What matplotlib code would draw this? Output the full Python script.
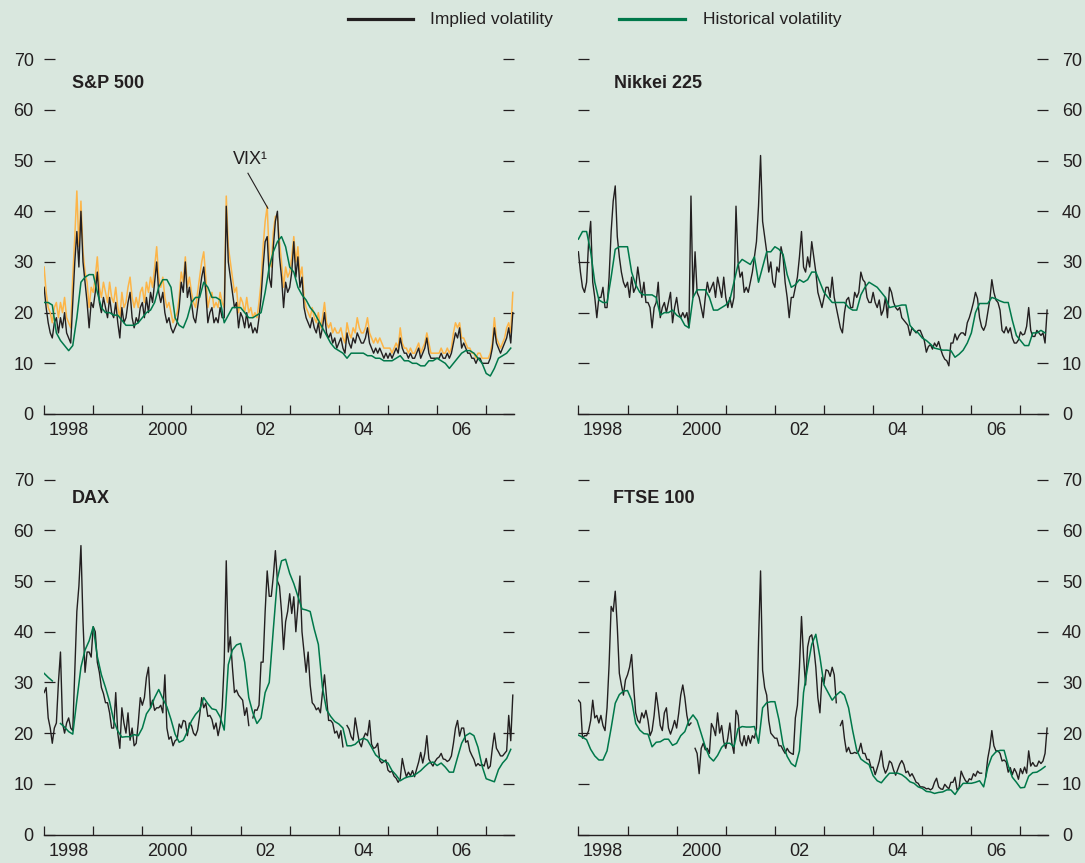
import numpy as np
import matplotlib
import matplotlib.pyplot as plt
from matplotlib.lines import Line2D

matplotlib.use('agg')

plt.rcParams['font.family'] = ['Liberation Sans Narrow', 'Liberation Sans', 'DejaVu Sans']

BG = '#d9e7de'
INK = '#231f20'
GREEN = '#00784a'
ORANGE = '#fdb548'

W, H = 1085, 863

# semi-monthly implied volatility, Jan 1998 - Jul 2007
spx_implied = [
    25, 21, 18, 16, 15, 18, 19, 16, 19, 17, 20, 16, 15, 14, 22, 30, 36, 29, 40, 30, 26, 22, 17, 22,
    21, 24, 28, 22, 20, 23, 21, 19, 23, 20, 19, 22, 18, 15, 21, 18, 19, 22, 24, 19, 17, 19, 18, 21,
    22, 19, 23, 20, 24, 22, 26, 30, 24, 22, 24, 20, 18, 19, 17, 16, 17, 18, 21, 26, 24, 30, 23, 25,
    22, 19, 18, 21, 24, 27, 29, 24, 18, 20, 21, 18, 19, 18, 21, 19, 19, 41, 30, 27, 24, 21, 22, 17,
    20, 19, 17, 20, 17, 18, 16, 17, 16, 19, 23, 29, 34, 35, 27, 25, 33, 38, 40, 31, 27, 21, 26, 24,
    25, 28, 34, 27, 31, 25, 27, 21, 19, 18, 17, 19, 17, 16, 18, 15, 17, 20, 16, 15, 16, 14, 15, 13,
    14, 15, 13, 12, 16, 14, 13, 15, 14, 16, 15, 14, 14, 15, 17, 14, 13, 12, 13, 12, 13, 12, 11, 12,
    11, 12, 11, 12, 13, 12, 15, 13, 12, 12, 11, 12, 11, 11, 12, 13, 11, 12, 13, 15, 12, 11, 11, 11,
    11, 11, 12, 11, 11, 12, 11, 12, 14, 16, 15, 17, 13, 14, 13, 12, 12, 11, 11, 10, 11, 11, 10, 10,
    10, 10, 11, 13, 17, 14, 13, 12, 13, 14, 15, 17, 14, 20,
]
vix = [
    29, 24, 21, 20, 18, 21, 22, 19, 22, 20, 23, 19, 18, 17, 27, 35, 44, 33, 42, 32, 28, 26, 21, 25,
    24, 27, 31, 25, 23, 26, 24, 22, 26, 23, 22, 25, 21, 19, 24, 21, 22, 25, 27, 23, 21, 23, 21, 24,
    25, 22, 26, 24, 27, 25, 29, 33, 27, 25, 27, 23, 21, 22, 20, 18, 19, 20, 23, 28, 26, 31, 25, 27,
    24, 22, 21, 24, 27, 30, 32, 27, 21, 23, 24, 21, 22, 21, 24, 22, 21, 43, 33, 30, 27, 24, 25, 20,
    23, 22, 20, 23, 20, 21, 19, 20, 19, 22, 26, 33, 38, 41, 31, 29, 36, 39, 39, 34, 30, 25, 29, 27,
    28, 31, 35, 30, 33, 27, 29, 23, 21, 20, 19, 21, 19, 18, 20, 17, 19, 22, 18, 17, 18, 16, 17, 16,
    16, 17, 15, 14, 18, 16, 15, 17, 16, 19, 17, 16, 16, 17, 19, 16, 15, 14, 15, 14, 15, 14, 13, 13,
    13, 13, 12, 13, 14, 13, 17, 14, 13, 13, 12, 13, 12, 12, 13, 14, 12, 13, 14, 16, 14, 12, 12, 12,
    12, 12, 13, 12, 12, 13, 12, 13, 16, 18, 17, 18, 15, 15, 14, 13, 13, 12, 12, 11, 12, 12, 11, 11,
    11, 11, 12, 14, 19, 15, 14, 13, 14, 15, 17, 18, 16, 24,
]
nikkei_implied = [
    32, 28, 25, 24, 26, 34, 38, 26, 23, 19, 23, 23, 25, 21, 21, 27, 36, 42, 45, 35, 31, 28, 26, 25,
    26, 23, 27, 24, 25, 29, 26, 23, 26, 22, 22, 21, 17, 21, 22, 26, 19, 21, 22, 20, 22, 24, 18, 21,
    23, 20, 19, 20, 19, 20, 17, 43, 23, 32, 24, 23, 21, 19, 23, 26, 24, 25, 26, 23, 27, 25, 23, 27,
    23, 21, 23, 21, 23, 41, 30, 27, 28, 24, 25, 24, 26, 28, 31, 34, 41, 51, 38, 35, 32, 28, 30, 26,
    25, 29, 28, 33, 31, 26, 23, 19, 23, 23, 25, 27, 31, 36, 29, 28, 31, 29, 34, 31, 28, 24, 22.5, 21,
    23, 25, 25, 23, 27, 23, 21, 19, 17, 16, 20, 22.5, 23, 21, 21, 24, 23, 24, 28, 26.5, 26, 23, 22, 22,
    24, 22, 21, 22.5, 19.5, 20.5, 23, 19, 25, 24, 22, 21, 20.5, 21, 19, 18.5, 18, 17.5, 15.5, 17, 16.5, 16, 16.5, 16.5,
    15.5, 14.5, 12.2, 13.3, 13.7, 12.8, 14, 13.3, 14.3, 12.8, 11.6, 10.8, 10.5, 9.5, 14, 14, 15.8, 14.6, 15.5, 16, 16, 15.5, 18, 19,
    20.4, 22, 24, 22.8, 19, 17.2, 16.5, 17.5, 20, 22.5, 26.5, 24, 22.5, 22, 20.5, 16.5, 16, 17.2, 16, 17, 15, 14, 14, 14.6,
    16.2, 15.6, 15.8, 17.3, 21, 16.5, 15.3, 15.3, 16.5, 16, 15.5, 16, 14, 20.5,
]
dax_implied = [
    28, 29, 23, 21, 18, 21, 22, 30, 36, 22, 20, 22, 23, 21, 20.5, 32, 44, 49, 57, 42, 32, 36, 36, 35,
    41, 40, 34, 32, 29, 27.8, 26, 26, 24, 21, 21, 28, 20, 17, 25, 22, 20, 24, 18.6, 21, 17.5, 18, 22, 27,
    25.5, 27, 31, 33, 25, 26.5, 24.5, 25, 25, 25.5, 24, 31.5, 21, 18.8, 19.3, 17.5, 18.5, 18.8, 21.8, 21, 22.5, 22.3, 19.5, 22,
    21.5, 20, 19.5, 20.6, 23.5, 27, 25, 25.9, 23.3, 23.5, 22.7, 20.8, 22, 19.5, 21.5, 25, 34, 54, 36, 39, 33, 28, 28.5, 27.5,
    27, 26.5, 23.5, 25, 21.5, np.nan, 23, 24.6, 24.5, 25.5, 34, 34, 44, 52, 47, 47, 51, 56, 50, 49, 44, 36.5, 42, 44,
    47.5, 43.6, 46.9, 40, 45, 51, 40, 36, 32, 36, 29.5, 26, 25.5, 24.6, 25, 24, 28, 31.5, 27, 22.5, 22.5, 22, 20, 20.4,
    19, 20.5, 17.3, np.nan, 21.5, 20.8, 19.3, 18.6, 23, 20.5, 18.2, 17.3, 19, 20, 19.5, 22.5, 17.8, 17, 17.2, 18, 14.6, 14.1, 14.4, 14.7,
    12.7, 12.3, 12.5, 11.5, 11.1, 10.3, 11, 15, 13, 11.4, 12.3, 11.6, 12.6, 11.4, 12.9, 14.3, 16.2, 14.1, 16, 19.5, 14.9, 14.1, 13.5, 14.4,
    15, 15.3, 16, 14.9, 14.8, 14.4, 14.7, 15.5, 18, 21, 22.5, 19.4, 21, 21, 18.2, 18.5, 16.5, 15.6, 14.8, 13.5, 14, 13.6, 13.8, 13.5,
    15, 13, 13.5, 17, 20, 17, 16.3, 15.5, 15.5, 16, 16.5, 23.5, 18.5, 27.5,
]
ftse_implied = [
    26.5, 26, 19, 19.5, 19.5, 20.5, 22.5, 26.5, 23, 23.5, 22, 23.5, 21.5, 20.5, 25, 33.5, 45, 44, 48, 41, 31.8, 29.5, 27.5, 30.5,
    31.5, 33, 35.5, 29, 24, 22.5, 22, 24, 23, 24.5, 22.5, 19.5, 20.5, 23.5, 28, 25, 21.5, 20.5, 24, 25, 21, 19.8, 21, 22.5,
    21, 23.9, 27.5, 29.5, 27, 23.5, 21.5, 22, np.nan, 17, 16, 12, 17, 18, 16.7, 17, 16, 21.9, 21, 19.5, 24, 20, 21.5, 18.3,
    17, 19, 22, 18, 16, 24.5, 23.5, 18.5, 17.5, 19.5, 17.5, 19.5, 18, 19.5, 19, 21, 38, 52, 32.4, 29, 27.5, 22.5, 20, 19.5,
    19, 19, 17.5, 17.5, 16.7, 16, 17, 16.3, 16, 15.8, 23, 25.5, 33, 43, 35, 29.5, 37, 39, 39.4, 37, 33, 27, 24, 31,
    29.8, 32.5, 32.3, 31.2, 33, 31.5, 26, np.nan, 21.5, 22.5, 18.9, 16.3, 17.2, 16, 16, 16.2, 16, 16.5, 18, 16, 16, 14.8, 14.8, 13.2,
    13.3, 11.8, 13.1, 14.5, 16.5, 13.4, 12.1, 12.9, 14.5, 14.1, 12.7, 11.7, 12.8, 13.9, 14.6, 13.8, 12.2, 12.5, 11.5, 12, 11.2, 10.3, 10.1, 9.4,
    9.4, 9.3, 9, 9.1, 8.8, 9.1, 10.3, 11.1, 9.4, 9, 8.9, 9.9, 9.4, 9, 10.3, 10.3, 11.3, 8.8, 9.2, 12.5, 11.5, 10.7, 10.2, 11,
    10.8, 12, 11.5, 12.5, 12.1, 12.1, np.nan, 11.4, 15, 17.2, 20.5, 17.5, 16.5, 16.5, 16, 14.5, 14.7, 14.3, 12.3, 13.2, 11.8, 13, 12.2, 10.9,
    13, 12, 13.3, 12.1, 16.5, 13.5, 14.2, 13.5, 13.5, 14.5, 14, 14.5, 16, 21,
]

# monthly historical volatility, Jan 1998 - Jul 2007
spx_hist = [
    22, 22, 21.5, 16, 14.5, 13.5, 12.5, 13.5, 19, 26, 27, 27.5,
    27.5, 24, 21, 20, 20, 19.5, 19.5, 18.5, 17.5, 17.5, 17.5, 18,
    19, 20, 20.5, 22, 25, 26.5, 26.5, 25, 19, 17.5, 17, 19,
    22, 23, 23, 26, 25, 23, 23, 22.5, 18, 19.5, 21, 21,
    21, 20, 19, 19, 19.5, 20, 24, 29, 32, 34, 35, 33,
    29, 28, 25, 23.5, 22.5, 21, 20, 18.5, 17, 15.5, 14, 13,
    12.5, 12, 11, 12, 12, 12, 12, 11.5, 11.5, 11, 11, 10.5,
    10.5, 10.5, 11, 11.5, 10.5, 10.5, 10, 10, 9.5, 9.5, 10.5, 10.5,
    11, 10.5, 10, 9, 10, 11, 12, 12.5, 12.5, 12, 11, 10,
    8, 7.5, 9, 11, 11.5, 12, 13,
]
nikkei_hist = [
    34.5, 36, 36, 32, 26, 22.5, 22, 22, 27, 32.5, 33, 33,
    33, 28, 25.5, 24, 23.5, 23.5, 23.5, 23, 19.5, 20, 20, 20.5,
    19.5, 19, 17.5, 17, 23, 24.5, 24.5, 24.5, 23, 20.5, 20.5, 21,
    21.5, 22.5, 26, 29.5, 30.5, 30, 29.5, 31, 26, 29, 32, 32,
    33, 32.5, 31.5, 27.5, 25, 25.5, 26.5, 26, 26.5, 28, 28, 26,
    24, 23, 22, 22, 22, 22, 21, 20.5, 20.5, 23.5, 25, 26,
    25.5, 25, 24, 23, 21, 21.2, 21.3, 21.5, 21.5, 17.5, 16.5, 16,
    15, 14.5, 13.8, 13, 12.8, 12.6, 12.6, 12.5, 11.2, 11.8, 12.6, 14,
    16, 20, 21.8, 21.8, 21.8, 23, 22.7, 22.3, 22, 22, 18.5, 15.5,
    14.5, 13.5, 13.5, 16, 16, 16.5, 16,
]
dax_hist = [
    31.8, 31, 30.3, np.nan, 21.9, 21.2, 20.3, 19.8, 26.5, 33, 36.4, 38.2,
    41, 35.1, 31.5, 29, 26.2, 22.5, 20.4, 19.2, 19.3, 19.3, 19.7, 19.5,
    21, 23.8, 25, 27, 28.6, 26.8, 25.2, 22.7, 19.8, 18.2, 18.6, 20.3,
    22.4, 23.7, 24.6, 27, 25.8, 24.8, 24.6, 23.2, 20.6, 33.5, 36.4, 37.4,
    37.7, 34, 27, 24, 21.9, 23, 28, 30, 40.5, 50.5, 54, 54.3,
    51.5, 49.5, 47, 44.5, 44.3, 44, 40.5, 37.5, 29, 24.6, 23.3, 22.3,
    21.8, 21, 17.5, 17.5, 17.8, 18.6, 19, 18.6, 17.2, 15.7, 15, 14.5,
    14.1, 12.6, 11.7, 10.6, 11.1, 11.4, 11.5, 12, 12.6, 13.4, 14.1, 14.3,
    13.6, 14.1, 13.3, 12.3, 12.3, 15.2, 18, 19.5, 20, 19.5, 17.2, 13.5,
    11, 10.7, 10.4, 12.8, 14.1, 15, 16.8,
]
ftse_hist = [
    19.6, 19.2, 18.7, 16.8, 15.5, 14.7, 14.7, 16.5, 21, 25.9, 27.6, 28.3,
    28.4, 26.5, 21.9, 20.6, 19.9, 19.8, 17.3, 18.2, 18.3, 18.8, 18.8, 17.6,
    18, 19.5, 20.3, 22.5, 23.6, 22.5, 19.9, 17.3, 15.3, 14.5, 15.6, 17.2,
    18, 18, 17.3, 20.9, 21.3, 21.2, 21.2, 21.3, 18, 25, 26, 26.2,
    26.2, 22.6, 17.7, 15.4, 14, 13.4, 16.5, 28, 33, 37.5, 39.5, 35,
    29.5, 28, 26.5, 27.5, 28.2, 27.5, 25, 20.5, 16.6, 14.9, 14.3, 13.8,
    11.6, 10.6, 10.2, 11.2, 12.1, 12.1, 12.1, 11.8, 11.2, 10.4, 10.1, 9.4,
    9.1, 8.5, 8.4, 8.1, 8.3, 8.4, 8.8, 8.8, 7.9, 9.1, 10.1, 10.1,
    10.1, 10.3, 10.6, 9.4, 13.2, 15.4, 16.3, 16.6, 16.6, 13.6, 11.3, 10.3,
    9.2, 9.3, 11.5, 12.2, 12.3, 12.8, 13.4,
]

year_ticks = list(range(1998, 2008))
label_pos = [1998.5, 2000.5, 2002.5, 2004.5, 2006.5]
label_text = ['1998', '2000', '02', '04', '06']


def semi_monthly(values):
    return 1998 + np.arange(len(values)) / 24


def monthly(values):
    return 1998 + np.arange(len(values)) / 12


fig = plt.figure(figsize=(W / 100, H / 100), dpi=100, facecolor=BG)

# (title, implied, historical, side, left px, zero-line px, title x, title y)
panels = [
    ("S&P 500", spx_implied, spx_hist, 'left', 44.1, 414.0, 1998.57, 65.3),
    ("Nikkei 225", nikkei_implied, nikkei_hist, 'right', 578.4, 414.0, 1998.72, 65.3),
    ("DAX", dax_implied, dax_hist, 'left', 44.1, 834.5, 1998.57, 66.3),
    ("FTSE 100", ftse_implied, ftse_hist, 'right', 578.4, 834.5, 1998.70, 66.3),
]

axes = []
for title, implied, hist, side, left, zero_y, title_x, title_y in panels:
    width = 469.6
    height = 354.8
    ax = fig.add_axes([left / W, 1 - zero_y / H, width / W, height / H])
    ax.set_facecolor('none')
    axes.append(ax)

    if title == "S&P 500":
        ax.plot(semi_monthly(vix), vix, color=ORANGE, lw=1.1, zorder=2)
    ax.plot(semi_monthly(implied), implied, color=INK, lw=1.0, zorder=3)
    ax.plot(monthly(hist), hist, color=GREEN, lw=1.1, zorder=4)

    ax.set_xlim(1998, 2007.56)
    ax.set_ylim(0, 70)

    for s in ['left', 'right', 'top']:
        ax.spines[s].set_visible(False)
    ax.spines['bottom'].set_color(INK)
    ax.spines['bottom'].set_linewidth(1.0)

    ax.set_yticks(range(0, 80, 10))
    ax.tick_params(axis='y', direction='in', length=8, width=0.9, color=INK,
                   labelcolor=INK, labelsize=13, left=True, right=True,
                   labelleft=(side == 'left'), labelright=(side == 'right'),
                   pad=7.5 if side == 'left' else 10)

    ax.set_xticks(year_ticks)
    ax.set_xticklabels([])
    ax.set_xticks(label_pos, minor=True)
    ax.set_xticklabels(label_text, minor=True)
    ax.tick_params(axis='x', which='major', direction='in', length=6.5,
                   width=0.9, color=INK)
    ax.tick_params(axis='x', which='minor', length=0, labelsize=13,
                   labelcolor=INK, pad=6)

    ax.text(title_x, title_y, title, fontsize=13, fontweight='bold',
            color=INK, va='center', ha='left')

# VIX label with leader line
axes[0].text(2001.85, 50.2, 'VIX¹', fontsize=13, color=INK, va='center', ha='left')
axes[0].plot([2002.15, 2002.555], [47.5, 40.6], color=INK, lw=0.8, zorder=5)


# legend across the top
def fx(x):
    return x / W


def fy(y):
    return 1 - y / H


fig.add_artist(Line2D([fx(348), fx(413)], [fy(19.5), fy(19.5)], color=INK, lw=2.3))
fig.text(fx(430), fy(19.5), 'Implied volatility', fontsize=12.5, color=INK, va='center', ha='left')
fig.add_artist(Line2D([fx(619), fx(685)], [fy(19.5), fy(19.5)], color=GREEN, lw=2.3))
fig.text(fx(703), fy(19.5), 'Historical volatility', fontsize=12.5, color=INK, va='center', ha='left')

fig.savefig('out.png', dpi=100, facecolor=BG)
plt.close(fig)
